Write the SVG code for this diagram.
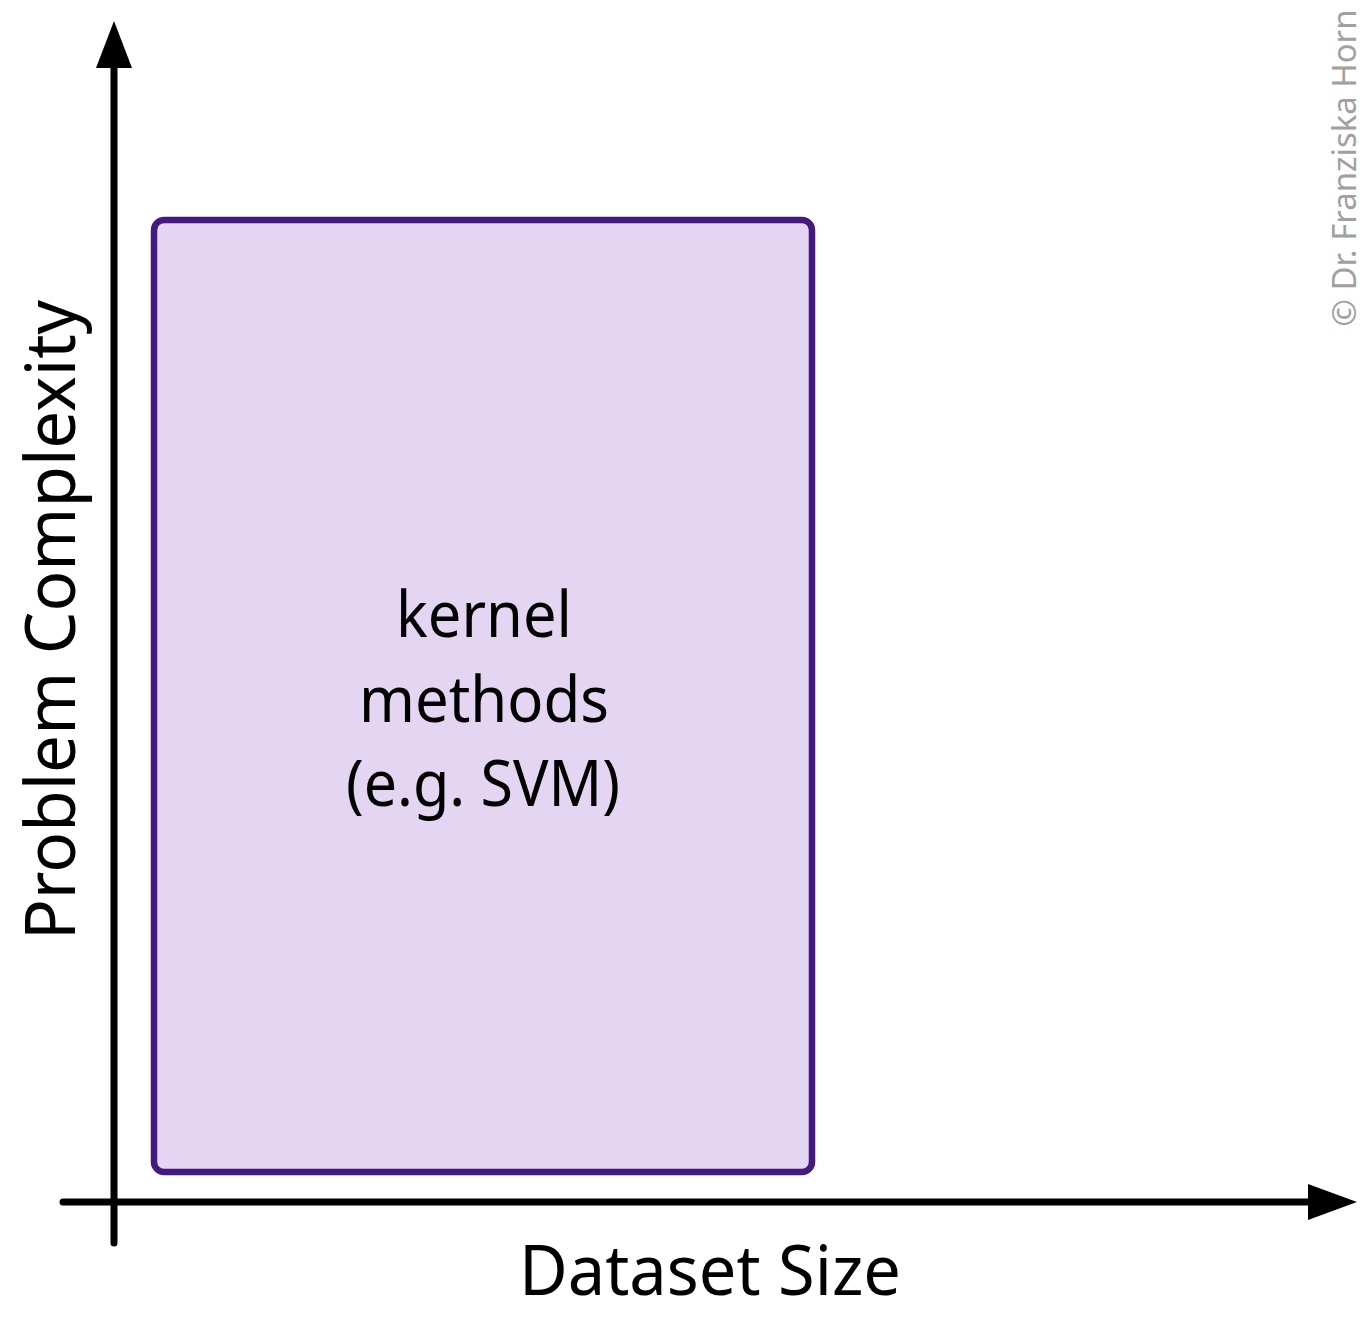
<svg xmlns="http://www.w3.org/2000/svg" width="1371" height="1317" viewBox="0 0 1371 1317">
<style>
.axis{stroke:#000;stroke-width:7;stroke-linecap:round;fill:none}
.head{fill:#000}
.lbl{font-family:"Noto Sans","Liberation Sans",sans-serif;fill:#000;text-anchor:middle}
.box{fill:#e4d5f2;stroke:#451a7e;stroke-width:6.5}
.copy{font-family:"Noto Sans","Liberation Sans",sans-serif;fill:#a0a0a0;text-anchor:middle;font-size:32px}
</style>
<rect width="1371" height="1317" fill="#fff"/>
<g id="region-kernel">
<rect class="box" x="154" y="220" width="658" height="952" rx="10" ry="10"/>
<text class="lbl" font-size="64" x="484" y="637" textLength="176" lengthAdjust="spacingAndGlyphs">kernel</text>
<text class="lbl" font-size="64" x="484" y="722" textLength="250" lengthAdjust="spacingAndGlyphs">methods</text>
<text class="lbl" font-size="64" x="483" y="806" textLength="274" lengthAdjust="spacingAndGlyphs">(e.g. SVM)</text>
</g>
<g id="axes">
<line class="axis" x1="114" y1="1243" x2="114" y2="66"/>
<polygon class="head" points="114,21 96,68 132,68"/>
<line class="axis" x1="63" y1="1202" x2="1310" y2="1202"/>
<polygon class="head" points="1357,1202 1308,1184 1308,1220"/>
</g>
<g id="axis-labels">
<text class="lbl" font-size="70" x="710" y="1295" textLength="382" lengthAdjust="spacingAndGlyphs">Dataset Size</text>
<text class="lbl" font-size="70" transform="translate(75,620) rotate(-90)" textLength="640" lengthAdjust="spacingAndGlyphs">Problem Complexity</text>
</g>
<g id="copyright">
<text class="copy" transform="translate(1356,168) rotate(-90)" textLength="317" lengthAdjust="spacingAndGlyphs">© Dr. Franziska Horn</text>
</g>
</svg>
